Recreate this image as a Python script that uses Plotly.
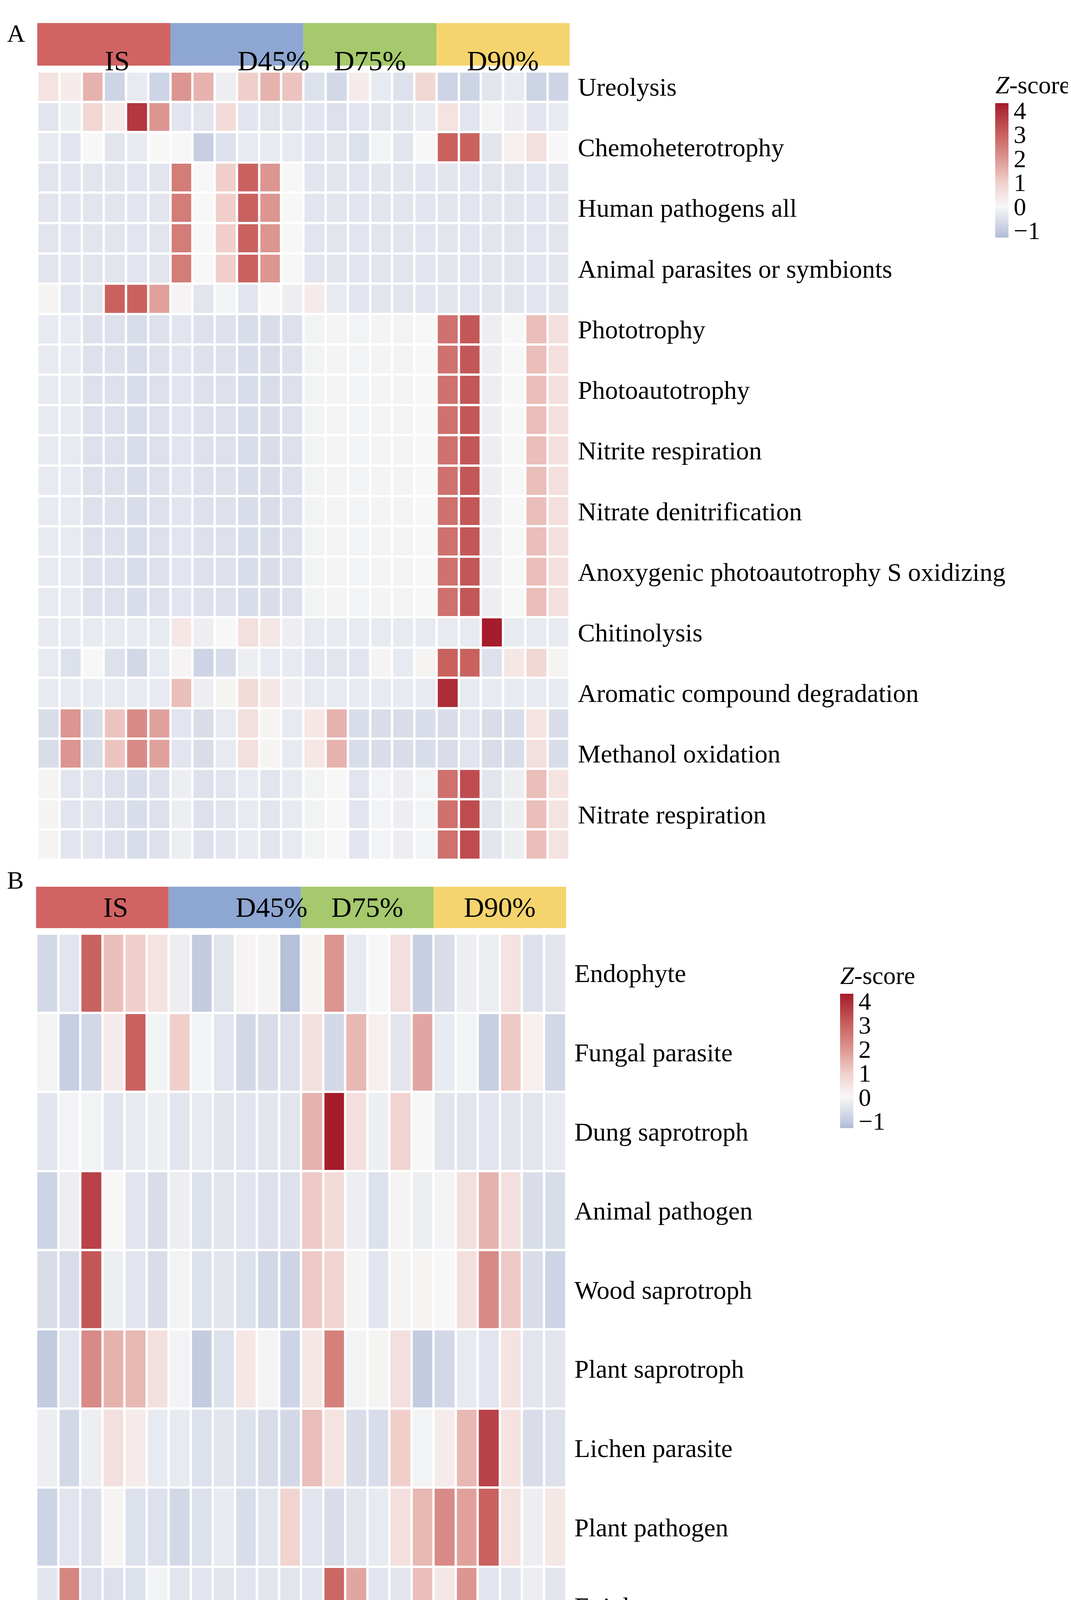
import plotly.graph_objects as go

W, H = 2741, 4438

groups = ["IS", "D45%", "D75%", "D90%"]
group_colors = ["#d16363", "#8ea7d2", "#a5c96c", "#f5d46e"]
samples = [f"{g}_{i}" for g in groups for i in range(1, 7)]

rows_a = [
    "Ureolysis", "Fermentation", "Chemoheterotrophy", "Plant pathogen",
    "Human pathogens all", "Human associated", "Animal parasites or symbionts",
    "Intracellular parasites", "Phototrophy", "Photoheterotrophy", "Photoautotrophy",
    "Nitrous oxide denitrification", "Nitrite respiration", "Nitrite denitrification",
    "Nitrate denitrification", "Denitrification",
    "Anoxygenic photoautotrophy S oxidizing", "Anoxygenic photoautotrophy",
    "Chitinolysis", "Aerobic chemoheterotrophy", "Aromatic compound degradation",
    "Methylotrophy", "Methanol oxidation", "Nitrogen respiration",
    "Nitrate respiration", "Nitrate reduction",
]

path_row = [-0.4] * 6 + [2.5, 0, 1.0, 3.0, 2.0, 0] + [-0.4] * 12
photo_row = [-0.3, -0.3, -0.5, -0.5, -0.6, -0.5, -0.4, -0.5, -0.5, -0.6, -0.6, -0.5,
             -0.1, 0.1, -0.1, 0.1, -0.1, 0, 2.7, 3.2, -0.2, 0, 1.3, 0.6]

z_a = [
    [0.5, 0.3, 1.5, -0.8, -0.3, -0.8, 2.0, 1.5, -0.2, 1.0, 1.5, 1.2, -0.5, -0.7, 0.3, -0.3, -0.5, 0.8, -0.8, -0.8, -0.4, -0.3, -0.8, -0.8],
    [-0.4, -0.2, 0.8, 0.3, 3.8, 2.0, -0.4, -0.4, 0.7, -0.4, -0.4, -0.4, -0.4, -0.5, -0.4, -0.4, -0.4, -0.3, 0.5, -0.4, -0.1, -0.2, -0.4, -0.3],
    [-0.3, -0.4, 0, -0.4, -0.3, 0, 0, -0.9, -0.5, -0.3, -0.3, -0.3, -0.4, -0.4, -0.5, -0.1, -0.4, 0, 3.0, 3.0, -0.4, 0.2, 0.6, 0],
    path_row, path_row, path_row, path_row,
    [0.1, -0.4, -0.4, 3.0, 3.0, 1.8, 0.1, -0.4, -0.1, -0.4, 0, -0.2, 0.3, -0.3, -0.4, -0.4, -0.4, -0.4, -0.4, -0.4, -0.4, -0.4, -0.4, -0.4],
    photo_row, photo_row, photo_row, photo_row, photo_row,
    photo_row, photo_row, photo_row, photo_row, photo_row,
    [-0.3] * 6 + [0.4, -0.2, 0, 0.6, 0.4, -0.2] + [-0.3] * 6 + [-0.3, -0.3, 4.3, -0.3, -0.3, -0.3],
    [-0.3, -0.5, 0, -0.5, -0.7, -0.3, 0.1, -0.8, -0.6, -0.2, -0.3, -0.3, -0.4, -0.4, -0.4, 0.1, -0.3, 0.1, 3.0, 3.0, -0.5, 0.4, 0.8, 0.1],
    [-0.3] * 6 + [1.3, -0.2, 0.1, 0.7, 0.4, -0.2] + [-0.3] * 6 + [4.0, -0.3, -0.3, -0.3, -0.3, -0.3],
    [-0.6, 2.0, -0.6, 1.2, 2.2, 1.8, -0.4, -0.6, -0.3, 0.6, 0.1, -0.3, 0.4, 1.5, -0.6, -0.6, -0.6, -0.6, -0.6, -0.4, -0.6, -0.6, 0.5, -0.6],
    [-0.6, 2.0, -0.6, 1.2, 2.2, 1.8, -0.4, -0.6, -0.3, 0.6, 0.1, -0.3, 0.4, 1.5, -0.6, -0.6, -0.6, -0.6, -0.6, -0.4, -0.6, -0.6, 0.6, -0.6],
    [0.1, -0.4, -0.4, -0.5, -0.6, -0.5, -0.2, -0.5, -0.4, -0.3, -0.4, -0.3, -0.1, 0, -0.4, -0.1, -0.2, -0.1, 2.7, 3.4, -0.4, -0.2, 1.3, 0.5],
    [0.1, -0.4, -0.4, -0.5, -0.6, -0.5, -0.2, -0.5, -0.4, -0.3, -0.4, -0.3, -0.1, 0, -0.4, -0.1, -0.2, -0.1, 2.7, 3.4, -0.4, -0.2, 1.3, 0.5],
    [0.1, -0.4, -0.4, -0.5, -0.6, -0.5, -0.2, -0.5, -0.4, -0.3, -0.4, -0.3, -0.1, 0, -0.4, -0.1, -0.2, -0.1, 2.7, 3.4, -0.4, -0.2, 1.3, 0.5],
]

rows_b = [
    "Endophyte", "Fungal parasite", "Dung saprotroph", "Animal pathogen",
    "Wood saprotroph", "Plant saprotroph", "Lichen parasite", "Plant pathogen",
    "Epiphyte", "Undefined saprotroph",
]

z_b = [
    [-0.7, -0.4, 3.0, 1.3, 1.0, 0.5, -0.2, -1.0, -0.4, 0.1, 0.1, -1.2, 0.1, 2.0, -0.3, 0, 0.6, -0.9, -0.6, -0.2, -0.2, 0.5, -0.5, -0.4],
    [-0.1, -0.9, -0.7, 0.3, 3.0, -0.1, 1.0, -0.1, -0.4, -0.7, -0.6, -0.5, 0.6, -0.7, 1.4, 0.2, -0.4, 1.7, -0.3, -0.1, -0.9, 1.1, 0.2, -0.7],
    [-0.4, -0.1, -0.1, -0.4, -0.3, -0.2, -0.4, -0.3, -0.4, -0.4, -0.4, -0.4, 1.5, 4.3, 0.6, -0.2, 0.9, 0, -0.4, -0.4, -0.4, -0.4, -0.4, -0.3],
    [-0.8, -0.2, 3.6, 0, -0.4, -0.6, -0.2, -0.5, -0.4, -0.4, -0.5, -0.5, 1.1, 0.7, -0.2, -0.5, 0.1, -0.2, -0.1, 0.6, 1.5, 0.6, -0.6, -0.6],
    [-0.6, -0.6, 3.2, -0.2, -0.4, -0.6, -0.1, -0.5, -0.4, -0.5, -0.7, -0.8, 1.1, 0.9, 0.1, -0.4, 0.1, 0.1, 0, 0.6, 2.2, 1.1, -0.6, -0.8],
    [-1.0, -0.4, 2.2, 1.5, 1.4, 0.6, -0.1, -1.0, -0.5, 0.4, -0.1, -0.8, 0.4, 2.4, -0.1, 0.1, 0.6, -1.0, -0.7, -0.3, -0.4, 0.5, -0.4, -0.4],
    [-0.2, -0.7, -0.2, 0.6, 0.3, -0.3, -0.3, -0.5, -0.4, -0.5, -0.6, -0.7, 1.3, 0.5, -0.6, -0.6, 1.0, -0.1, 0.3, 1.4, 3.6, 0.5, -0.6, -0.5],
    [-0.8, -0.4, -0.5, 0.1, -0.5, -0.5, -0.7, -0.5, -0.3, -0.6, -0.4, 0.9, -0.4, -0.6, -0.4, -0.3, 0.6, 1.4, 2.2, 1.8, 3.0, 0.5, -0.2, 0.4],
    [-0.4, 2.3, -0.5, -0.5, -0.5, -0.1, -0.4, -0.4, -0.4, -0.4, -0.4, -0.4, -0.4, 2.9, 1.7, -0.4, -0.4, 1.3, 0.4, 2.0, -0.4, -0.4, -0.2, -0.4],
    [-0.8, -0.7, -0.2, 0, -0.4, -0.4, -0.5, -0.4, -0.6, -0.6, -0.6, 0.8, 0.4, -0.6, -0.5, -0.4, 0.7, 0.7, 1.6, 1.8, 3.2, 0.2, 0.1, 0.4],
]

ZMIN, ZMAX = -1.3, 4.3


def pos(v):
    return (v - ZMIN) / (ZMAX - ZMIN)


cscale = [
    [0.0, "#aebad6"],
    [pos(-1), "#c3cbe0"],
    [pos(0), "#f7f7f7"],
    [pos(1), "#f0cfcb"],
    [pos(2), "#dc9590"],
    [pos(3), "#c9625f"],
    [1.0, "#a51c2a"],
]

FONT = "Liberation Serif"
xa = [88 / W, 1461 / W]
ya = [1 - 2193 / H, 1 - 175 / H]
xb = [85 / W, 1452 / W]
yb = [1 - 4408 / H, 1 - 2382 / H]


def cbar(x_px, y_top_px):
    return dict(
        x=x_px / W, xanchor="left", y=1 - y_top_px / H, yanchor="top",
        len=440, lenmode="pixels", thickness=34, outlinewidth=0,
        tickvals=[-1, 0, 1, 2, 3, 4], ticktext=["\u22121", "0", "1", "2", "3", "4"],
        ticks="", tickfont=dict(size=64, family=FONT, color="black"),
        title=dict(text="<i>Z</i>-score", side="top", font=dict(size=64, family=FONT, color="black")),
    )


fig = go.Figure()
fig.add_trace(go.Heatmap(
    z=z_a, x=samples, y=rows_a, zmin=ZMIN, zmax=ZMAX, colorscale=cscale,
    xgap=6, ygap=6, colorbar=cbar(2548, 170), xaxis="x", yaxis="y",
))
fig.add_trace(go.Heatmap(
    z=z_b, x=samples, y=rows_b, zmin=ZMIN, zmax=ZMAX, colorscale=cscale,
    xgap=6, ygap=6, colorbar=cbar(2148, 2450), xaxis="x2", yaxis="y2",
))

shapes, annotations = [], []
for dom, top, bot in [(xa, 51, 160), (xb, 2262, 2368)]:
    w = (dom[1] - dom[0]) / 4
    for i, (g, c) in enumerate(zip(groups, group_colors)):
        x0, x1 = dom[0] + i * w, dom[0] + (i + 1) * w
        shapes.append(dict(type="rect", xref="paper", yref="paper", x0=x0, x1=x1,
                           y0=1 - bot / H, y1=1 - top / H, fillcolor=c, line=dict(width=0)))
        annotations.append(dict(text=g, xref="paper", yref="paper", x=(x0 + x1) / 2,
                                y=1 - (top + bot) / 2 / H, showarrow=False,
                                font=dict(size=72, family=FONT, color="black")))
annotations.append(dict(text="A", xref="paper", yref="paper", x=8 / W, y=1 - 40 / H,
                        showarrow=False, xanchor="left", font=dict(size=64, family=FONT, color="black")))
annotations.append(dict(text="B", xref="paper", yref="paper", x=8 / W, y=1 - 2245 / H,
                        showarrow=False, xanchor="left", font=dict(size=64, family=FONT, color="black")))

ax_common = dict(showgrid=False, zeroline=False, showline=False, ticks="")
fig.update_layout(
    width=W, height=H, margin=dict(l=0, r=0, t=0, b=0),
    paper_bgcolor="white", plot_bgcolor="white",
    shapes=shapes, annotations=annotations,
    xaxis=dict(domain=xa, showticklabels=False, **ax_common),
    xaxis2=dict(domain=xb, showticklabels=False, anchor="y2", **ax_common),
    yaxis=dict(domain=ya, autorange="reversed", side="right", anchor="x", ticklabelstandoff=20,
               tickfont=dict(size=66, family=FONT, color="black"), **ax_common),
    yaxis2=dict(domain=yb, autorange="reversed", side="right", anchor="x2", ticklabelstandoff=20,
                tickfont=dict(size=66, family=FONT, color="black"), **ax_common),
)

fig.write_html("out.html")
